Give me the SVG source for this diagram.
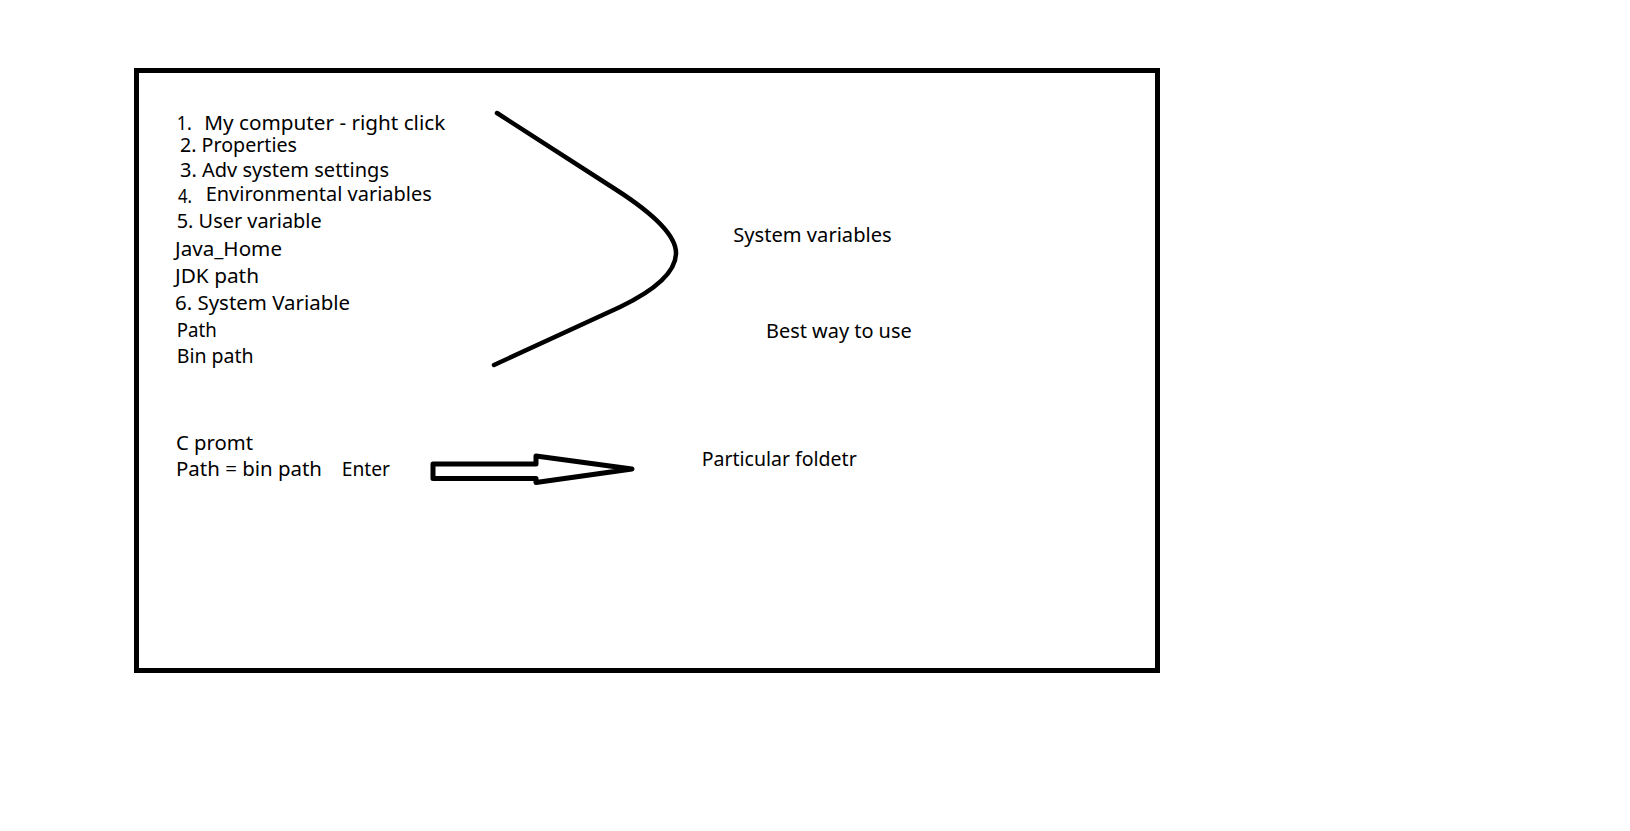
<svg xmlns="http://www.w3.org/2000/svg" width="1630" height="831" viewBox="0 0 1630 831">
<style>
.t{font-family:"Noto Sans","Open Sans","Liberation Sans",sans-serif;font-size:20.5px;fill:#000;}
.ln{fill:none;stroke:#000;stroke-linecap:round;stroke-linejoin:round;}
</style>
<rect x="0" y="0" width="1630" height="831" fill="#fff"/>
<g id="frame">
<rect x="136.5" y="70.5" width="1021" height="600" fill="none" stroke="#000" stroke-width="5"/>
</g>
<g id="steps">
<text class="t" x="176.7" y="130" textLength="15" lengthAdjust="spacingAndGlyphs">1.</text>
<text class="t" x="204.3" y="130" textLength="241" lengthAdjust="spacingAndGlyphs">My computer - right click</text>
<text class="t" x="180" y="151.7" textLength="117" lengthAdjust="spacingAndGlyphs">2. Properties</text>
<text class="t" x="180" y="177.3" textLength="209" lengthAdjust="spacingAndGlyphs">3. Adv system settings</text>
<text class="t" x="178" y="203.3" textLength="14" lengthAdjust="spacingAndGlyphs">4.</text>
<text class="t" x="205.7" y="200.7" textLength="226" lengthAdjust="spacingAndGlyphs">Environmental variables</text>
<text class="t" x="176.7" y="228.3" textLength="145" lengthAdjust="spacingAndGlyphs">5. User variable</text>
<text class="t" x="175" y="256" textLength="107" lengthAdjust="spacingAndGlyphs">Java_Home</text>
<text class="t" x="175" y="282.7" textLength="84" lengthAdjust="spacingAndGlyphs">JDK path</text>
<text class="t" x="175" y="310" textLength="175" lengthAdjust="spacingAndGlyphs">6. System Variable</text>
<text class="t" x="176.7" y="336.7" textLength="40" lengthAdjust="spacingAndGlyphs">Path</text>
<text class="t" x="176.7" y="363.3" textLength="77" lengthAdjust="spacingAndGlyphs">Bin path</text>
</g>
<g id="cprompt">
<text class="t" x="176" y="450" textLength="77" lengthAdjust="spacingAndGlyphs">C promt</text>
<text class="t" y="476"><tspan x="176" textLength="146" lengthAdjust="spacingAndGlyphs">Path = bin path</tspan><tspan x="341.7" textLength="48.3" lengthAdjust="spacingAndGlyphs">Enter</tspan></text>
</g>
<g id="system-variables">
<text class="t" x="733.3" y="241.7" textLength="158.4" lengthAdjust="spacingAndGlyphs">System variables</text>
</g>
<g id="best-way">
<text class="t" x="766" y="338.3" textLength="145.7" lengthAdjust="spacingAndGlyphs">Best way to use</text>
</g>
<g id="particular-folder">
<text class="t" x="701.7" y="466" textLength="155" lengthAdjust="spacingAndGlyphs">Particular foldetr</text>
</g>
<g id="connectors">
<path class="ln" stroke-width="4.5" d="M497,113 L615,189 Q676,228 676,253 Q676,280 620,307 L494,365"/>
<polygon class="ln" stroke-width="5" points="433,464 536,464 536,456 632,469 536,482.5 536,478.5 433,478.5"/>
</g>
</svg>
